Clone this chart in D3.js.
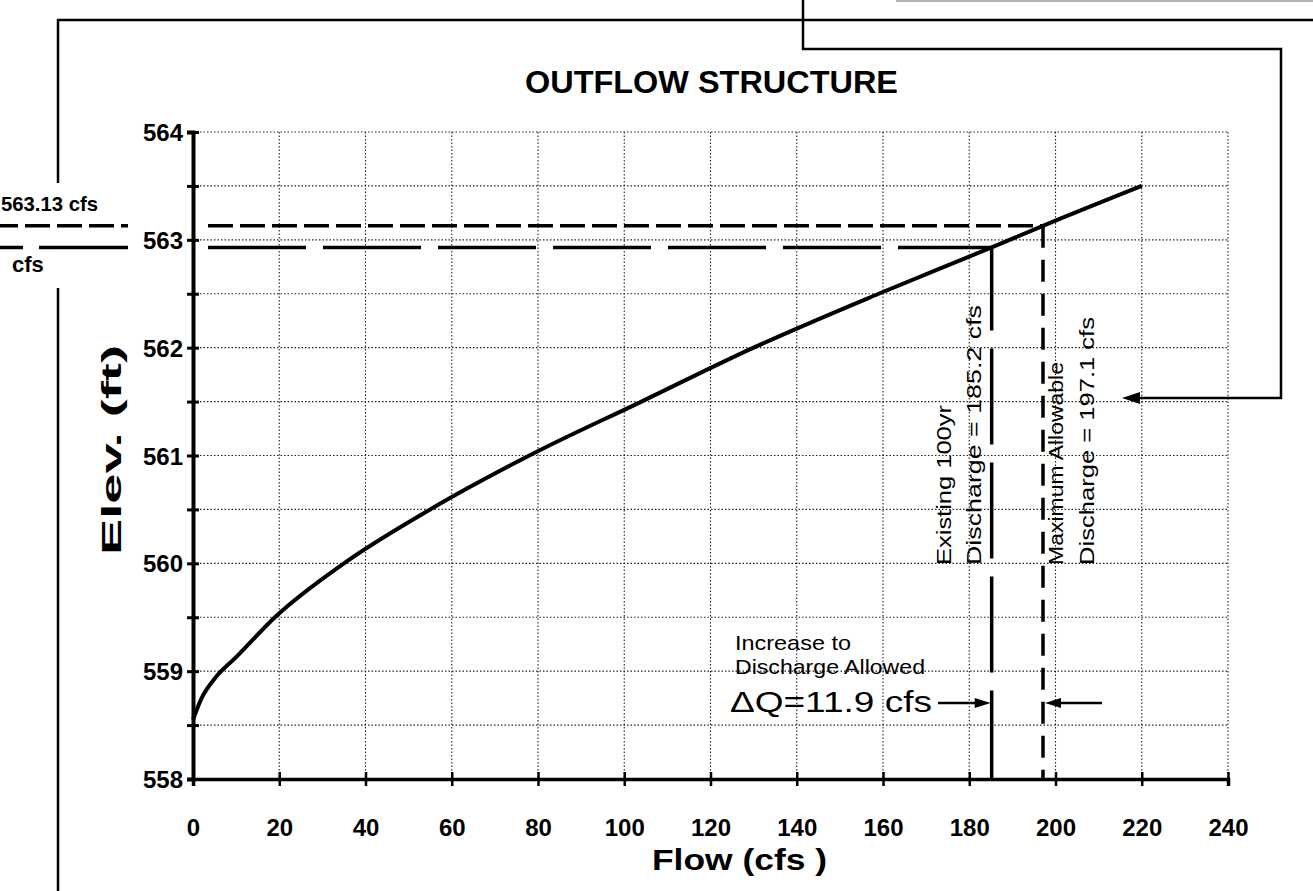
<!DOCTYPE html>
<html>
<head>
<meta charset="utf-8">
<script src="https://cdn.jsdelivr.net/npm/d3@7"></script>
<style>
  html, body { margin: 0; padding: 0; background: #fff; }
  svg { display: block; }
  text { font-family: "Liberation Sans", Arial, sans-serif; fill: #000; }
</style>
</head>
<body>
<svg id="chart" width="1313" height="891"></svg>
<script>
// ---- data ----
const flows = [0, 2, 5, 10, 19, 35, 55, 78, 104, 130, 159, 185.2, 197.1, 220];
const elevs = [558.55, 558.75, 558.93, 559.13, 559.5, 560.0, 560.5, 561.0, 561.5, 562.0, 562.5, 562.93, 563.13, 563.5];
const xTicks = [0, 20, 40, 60, 80, 100, 120, 140, 160, 180, 200, 220, 240];
const yTicks = [558, 558.5, 559, 559.5, 560, 560.5, 561, 561.5, 562, 562.5, 563, 563.5, 564];
const existingQ = 185.2, existingElev = 562.93;
const maxQ = 197.1, maxElev = 563.13;
const deltaQ = 11.9;

const svg = d3.select("#chart");
const x = d3.scaleLinear().domain([0, 240]).range([193, 1228]);
const y = d3.scaleLinear().domain([558, 564]).range([779, 132]);

// ---- frame / callout lines ----
const frame = svg.append("g").attr("fill", "none").attr("stroke", "#000").attr("stroke-width", 2.5);
frame.append("path").attr("d", "M58,183 V20 H1313");
frame.append("path").attr("d", "M58,288 V891");
frame.append("path").attr("d", "M803,0 V49 H1281 V398 H1135");
svg.append("path").attr("d", "M1122,398 L1140,392 L1140,404 Z").attr("fill", "#000");
svg.append("line").attr("x1", 896).attr("x2", 1313).attr("y1", 1).attr("y2", 1)
  .attr("stroke", "#999").attr("stroke-width", 1.5);

// ---- grid ----
const grid = svg.append("g").attr("stroke", "#222").attr("stroke-width", 1.1).attr("stroke-dasharray", "1.5,2");
grid.selectAll("line.v").data(xTicks.filter(d => d > 0)).join("line")
  .attr("x1", d => x(d)).attr("x2", d => x(d)).attr("y1", y(564)).attr("y2", y(558));
grid.selectAll("line.h").data(yTicks.filter(d => d > 558)).join("line")
  .attr("class", "h")
  .attr("x1", x(0)).attr("x2", x(240)).attr("y1", d => y(d)).attr("y2", d => y(d));

// ---- axes ----
const yAxis = svg.append("g").attr("transform", `translate(${x(0)},0)`)
  .call(d3.axisLeft(y).tickValues(yTicks).tickSizeOuter(0).tickSize(6).tickPadding(4)
    .tickFormat(d => Number.isInteger(d) ? d : ""));
yAxis.select(".domain").attr("stroke-width", 4);
yAxis.selectAll(".tick line").attr("x1", -6).attr("x2", 6).attr("stroke-width", 3);
yAxis.selectAll(".tick text").attr("font-size", 24).attr("font-weight", "bold")
  .attr("font-family", "Liberation Sans, Arial, sans-serif").attr("dy", "0.36em");

const xAxis = svg.append("g").attr("transform", `translate(0,${y(558)})`)
  .call(d3.axisBottom(x).tickValues(xTicks).tickSizeOuter(0).tickSize(7).tickPadding(33));
xAxis.select(".domain").attr("stroke-width", 3.5);
xAxis.selectAll(".tick line").attr("y1", -7).attr("y2", 7).attr("stroke-width", 2.5);
xAxis.selectAll(".tick text").attr("font-size", 24).attr("font-weight", "bold")
  .attr("font-family", "Liberation Sans, Arial, sans-serif");

// ---- reference dashed lines ----
const ref = svg.append("g").attr("fill", "none").attr("stroke", "#000").attr("stroke-width", 3.5);
// 563.13 (max allowable elevation)
ref.append("line").attr("x1", 208).attr("x2", x(maxQ)).attr("y1", y(maxElev)).attr("y2", y(maxElev))
  .attr("stroke-dasharray", "25,7");
ref.append("line").attr("x1", 0).attr("x2", 128).attr("y1", y(maxElev)).attr("y2", y(maxElev))
  .attr("stroke-dasharray", "25,7").attr("stroke-dashoffset", 7);
// 562.93 (existing elevation)
ref.append("line").attr("x1", 208).attr("x2", x(existingQ)).attr("y1", y(existingElev)).attr("y2", y(existingElev))
  .attr("stroke-dasharray", "98,17");
ref.append("line").attr("x1", 0).attr("x2", 128).attr("y1", y(existingElev)).attr("y2", y(existingElev))
  .attr("stroke-dasharray", "23,16,98");
// vertical lines
ref.append("line").attr("x1", x(existingQ)).attr("x2", x(existingQ)).attr("y1", y(existingElev)).attr("y2", y(558))
  .attr("stroke-dasharray", "96,18").attr("stroke-dashoffset", 13);
ref.append("line").attr("x1", x(maxQ)).attr("x2", x(maxQ)).attr("y1", y(maxElev)).attr("y2", y(558))
  .attr("stroke-dasharray", "22,12");

// ---- rating curve ----
const pts = flows.map((f, i) => [f, elevs[i]]);
svg.append("path").datum(pts)
  .attr("fill", "none").attr("stroke", "#000").attr("stroke-width", 4).attr("stroke-linejoin", "round")
  .attr("d", d3.line().x(d => x(d[0])).y(d => y(d[1])).curve(d3.curveMonotoneX));

// ---- texts ----
svg.append("text").attr("x", 525).attr("y", 93).attr("font-size", 31).attr("font-weight", "bold")
  .attr("textLength", 373).attr("lengthAdjust", "spacingAndGlyphs").text("OUTFLOW STRUCTURE");

svg.append("text").attr("transform", "translate(121,555) rotate(-90)").attr("font-size", 28).attr("font-weight", "bold")
  .attr("textLength", 210).attr("lengthAdjust", "spacingAndGlyphs").text("Elev.  (ft)");

svg.append("text").attr("x", 652).attr("y", 870).attr("font-size", 30).attr("font-weight", "bold")
  .attr("textLength", 175).attr("lengthAdjust", "spacingAndGlyphs").text("Flow  (cfs )");

svg.append("text").attr("x", 1).attr("y", 211).attr("font-size", 21)
  .attr("font-weight", "bold").attr("textLength", 97).attr("lengthAdjust", "spacingAndGlyphs")
  .text(maxElev.toFixed(2) + " cfs");
svg.append("text").attr("x", 12).attr("y", 272).attr("font-size", 22).attr("font-weight", "bold").text("cfs");

// rotated discharge labels
function vtext(xp, yp, len, str) {
  svg.append("text").attr("transform", `translate(${xp},${yp}) rotate(-90)`)
    .attr("font-size", 21).attr("textLength", len).attr("lengthAdjust", "spacingAndGlyphs").text(str);
}
vtext(951, 565, 160, "Existing 100yr");
vtext(981, 565, 260, "Discharge = " + existingQ + " cfs");
vtext(1063, 565, 203, "Maximum Allowable");
vtext(1094, 565, 248, "Discharge = " + maxQ + " cfs");

svg.append("text").attr("x", 735).attr("y", 650).attr("font-size", 21)
  .attr("textLength", 116).attr("lengthAdjust", "spacingAndGlyphs").text("Increase to");
svg.append("text").attr("x", 735).attr("y", 674).attr("font-size", 21)
  .attr("textLength", 190).attr("lengthAdjust", "spacingAndGlyphs").text("Discharge Allowed");
svg.append("text").attr("x", 730).attr("y", 712).attr("font-size", 29)
  .attr("textLength", 202).attr("lengthAdjust", "spacingAndGlyphs").text("\u0394Q=" + deltaQ + " cfs");

// ΔQ arrows
const ay = 703;
svg.append("line").attr("x1", 938).attr("x2", 980).attr("y1", ay).attr("y2", ay).attr("stroke", "#000").attr("stroke-width", 2.5);
svg.append("path").attr("d", `M${x(existingQ) - 1},${ay} l-16,-5 v10 Z`).attr("fill", "#000");
svg.append("line").attr("x1", 1060).attr("x2", 1102).attr("y1", ay).attr("y2", ay).attr("stroke", "#000").attr("stroke-width", 2.5);
svg.append("path").attr("d", `M${x(maxQ) + 2},${ay} l16,-5 v10 Z`).attr("fill", "#000");
</script>
</body>
</html>
